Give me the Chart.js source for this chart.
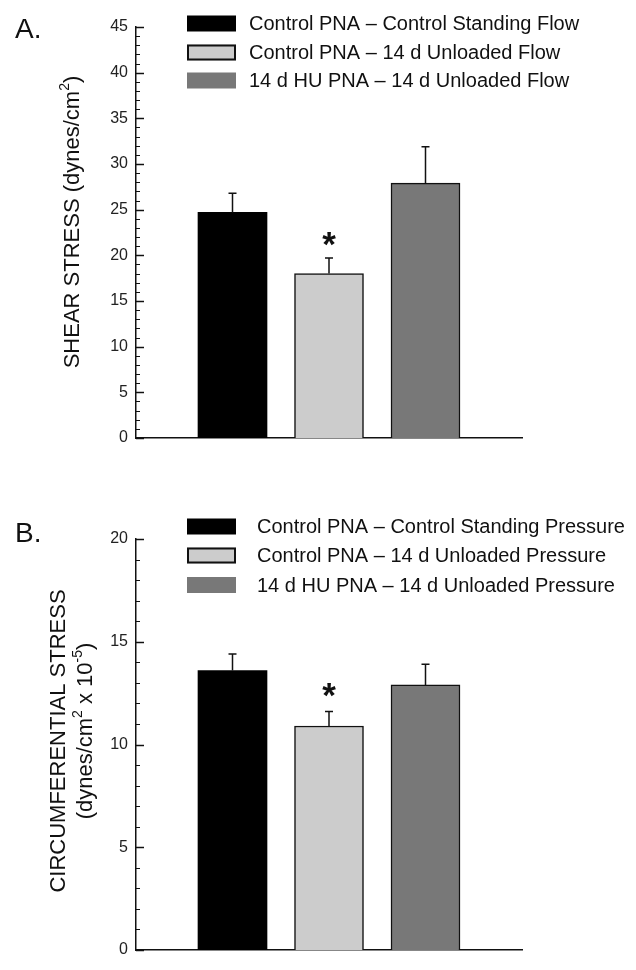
<!DOCTYPE html>
<html>
<head>
<meta charset="utf-8">
<script src="https://cdn.jsdelivr.net/npm/chart.js@4.4.0/dist/chart.umd.min.js"></script>
<style>
  body { margin: 0; background: #fff; }
  .panel { position: relative; width: 636px; height: 485px; }
</style>
</head>
<body>
<div class="panel"><canvas id="chartA" width="636" height="485"></canvas></div>
<div class="panel"><canvas id="chartB" width="636" height="485"></canvas></div>
<script>
// groups (same order in both panels)
const groups = ["Control PNA – Control Standing", "Control PNA – 14 d Unloaded", "14 d HU PNA – 14 d Unloaded"];
const flowLabels = groups.map(g => g + " Flow");
const pressureLabels = groups.map(g => g + " Pressure");
const barPos = [1, 2, 3];

// A. shear stress (dynes/cm2), mean and SEM
const shearMean = [24.7, 18.0, 27.9];
const shearSem = [2.1, 1.7, 4.0];
const shearTicks = [0, 5, 10, 15, 20, 25, 30, 35, 40, 45];

// B. circumferential stress (dynes/cm2 x 10-5), mean and SEM
const circMean = [13.6, 10.9, 12.9];
const circSem = [0.8, 0.7, 1.0];
const circTicks = [0, 5, 10, 15, 20];

// significant vs control (index)
const starIdx = 1;

const FONT = '"Liberation Sans", Arial, sans-serif';
const fills = ["#000000", "#cccccc", "#787878"];

function richText(ctx, parts, cx, cy) {
  // parts: [text, isSup]
  let total = 0;
  parts.forEach(p => {
    ctx.font = (p[1] ? "14px " : "22px ") + FONT;
    total += ctx.measureText(p[0]).width;
  });
  let x = cx - total / 2;
  ctx.textAlign = "left";
  ctx.textBaseline = "middle";
  parts.forEach(p => {
    ctx.font = (p[1] ? "14px " : "22px ") + FONT;
    ctx.fillText(p[0], x, cy + (p[1] ? -7 : 1));
    x += ctx.measureText(p[0]).width;
  });
}

function panelPlugin(p) {
  return {
    id: "panel" + p.letter,
    afterDatasetsDraw(chart) {
      const ctx = chart.ctx;
      const ys = chart.scales.y;
      const meta = chart.getDatasetMeta(0);
      ctx.save();
      ctx.strokeStyle = "#111";
      ctx.lineWidth = 1.5;
      meta.data.forEach((bar, i) => {
        const top = ys.getPixelForValue(p.mean[i] + p.sem[i]);
        ctx.beginPath();
        ctx.moveTo(bar.x, bar.y);
        ctx.lineTo(bar.x, top);
        ctx.moveTo(bar.x - 4, top);
        ctx.lineTo(bar.x + 4, top);
        ctx.stroke();
        if (i === starIdx) {
          ctx.fillStyle = "#111";
          ctx.font = "bold 35px " + FONT;
          ctx.textAlign = "center";
          ctx.textBaseline = "alphabetic";
          ctx.fillText("*", bar.x, top - p.starGap + 20);
        }
      });
      ctx.restore();
    },
    afterDraw(chart) {
      const ctx = chart.ctx;
      const ys = chart.scales.y;
      const left = chart.chartArea.left;
      ctx.save();
      ctx.strokeStyle = "#111";
      // inside ticks, major every 5, minor every 1
      for (let v = 0; v <= ys.max; v++) {
        const y = Math.round(ys.getPixelForValue(v)) + 0.5;
        const major = v % 5 === 0;
        ctx.lineWidth = major ? 1.5 : 1;
        ctx.beginPath();
        ctx.moveTo(left, y);
        ctx.lineTo(left + (major ? 8 : 4), y);
        ctx.stroke();
      }
      // legend
      p.legend.forEach((txt, i) => {
        const cy = p.legendY[i];
        ctx.fillStyle = fills[i];
        ctx.fillRect(187, cy - 8, 49, 16);
        if (i === 1) {
          ctx.lineWidth = 2;
          ctx.strokeRect(188, cy - 7, 47, 14);
        }
        ctx.fillStyle = "#111";
        ctx.font = "20px " + FONT;
        ctx.textAlign = "left";
        ctx.textBaseline = "middle";
        ctx.fillText(txt, p.legendX, cy + 1);
      });
      // panel letter
      ctx.fillStyle = "#111";
      ctx.font = "28px " + FONT;
      ctx.textAlign = "left";
      ctx.textBaseline = "alphabetic";
      ctx.fillText(p.letter + ".", 15, p.letterY);
      // y title
      p.title.forEach(line => {
        ctx.save();
        ctx.translate(line.x, line.y);
        ctx.rotate(-Math.PI / 2);
        richText(ctx, line.parts, 0, 0);
        ctx.restore();
      });
      ctx.restore();
    }
  };
}

function makePanel(id, p) {
  return new Chart(document.getElementById(id), {
    type: "bar",
    data: {
      datasets: [{
        label: p.letter,
        data: barPos.map((x, i) => ({ x: x, y: p.mean[i] })),
        backgroundColor: fills,
        borderColor: "#111",
        borderWidth: [0, 1.5, 1.5],
        borderSkipped: "bottom",
        barThickness: 69,
      }],
    },
    options: {
      responsive: false,
      animation: false,
      layout: { padding: p.padding },
      plugins: { legend: { display: false }, tooltip: { enabled: false } },
      scales: {
        x: {
          type: "linear",
          min: 0,
          max: 4,
          offset: false,
          grid: { display: false },
          ticks: { display: false },
          border: { color: "#111", width: 1.5 },
          afterFit: s => { s.height = 0; },
        },
        y: {
          min: 0,
          max: p.ticks[p.ticks.length - 1],
          afterBuildTicks: s => { s.ticks = p.ticks.map(v => ({ value: v })); },
          grid: { display: false },
          border: { color: "#111", width: 1.5 },
          ticks: { color: "#222", padding: 0, font: { family: FONT, size: 16 } },
          afterFit: s => { s.width = 136; },
        },
      },
    },
    plugins: [panelPlugin(p)],
  });
}

makePanel("chartA", {
  letter: "A",
  letterY: 38,
  mean: shearMean,
  sem: shearSem,
  ticks: shearTicks,
  starGap: 22,
  padding: { left: 0, top: 27, right: 114, bottom: 47 },
  legend: flowLabels,
  legendX: 249,
  legendY: [23.5, 52.5, 80.5],
  title: [
    { x: 72, y: 222, parts: [["SHEAR STRESS (dynes/cm", false], ["2", true], [")", false]] },
  ],
});

makePanel("chartB", {
  letter: "B",
  letterY: 57,
  mean: circMean,
  sem: circSem,
  ticks: circTicks,
  starGap: 25,
  padding: { left: 0, top: 54, right: 114, bottom: 20 },
  legend: pressureLabels,
  legendX: 257,
  legendY: [41.5, 70.5, 100],
  title: [
    { x: 58, y: 256, parts: [["CIRCUMFERENTIAL STRESS", false]] },
    { x: 85, y: 246, parts: [["(dynes/cm", false], ["2", true], [" x 10", false], ["-5", true], [")", false]] },
  ],
});
</script>
</body>
</html>
